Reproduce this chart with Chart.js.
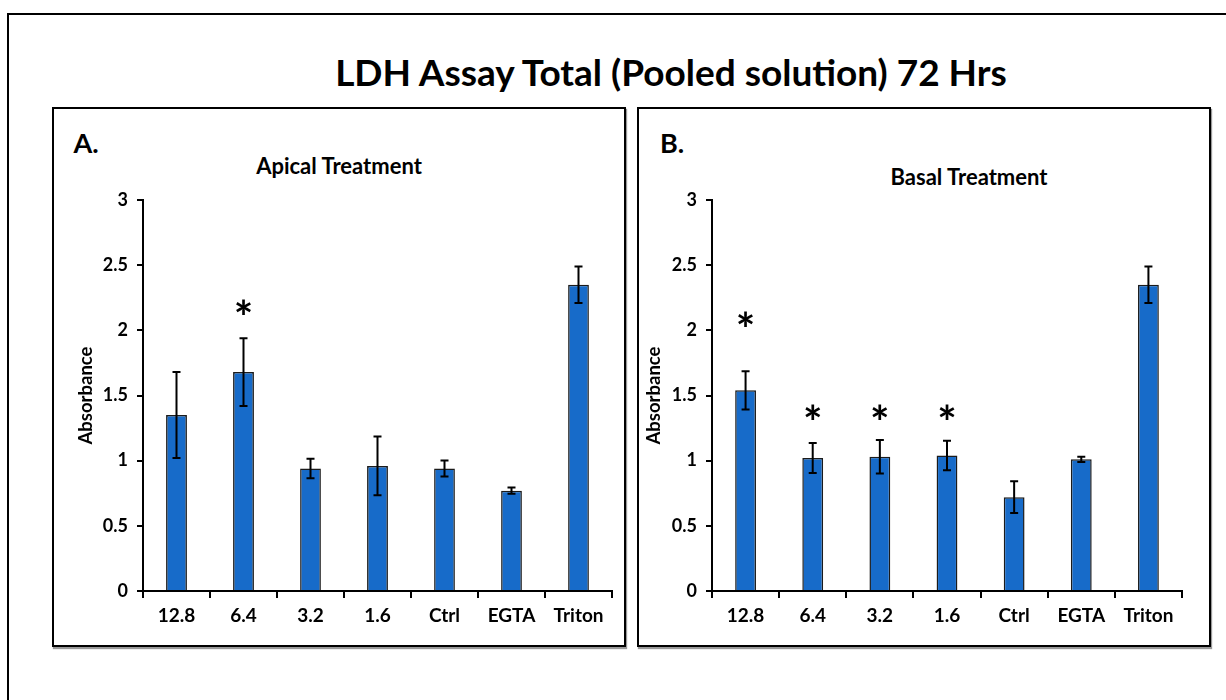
<!DOCTYPE html>
<html><head><meta charset="utf-8">
<script src="https://cdn.jsdelivr.net/npm/chart.js@4.4.1/dist/chart.umd.min.js"></script>
<style>
html,body{margin:0;padding:0;background:#fff;width:1226px;height:700px;overflow:hidden;font-family:Lato,'Open Sans',sans-serif;}
#frame{position:absolute;left:7px;top:13px;width:1300px;height:800px;border:2px solid #000;}
.panel{position:absolute;top:107px;width:570px;height:536px;border:2px solid #000;box-shadow:1px 2px 1px #999;}
#pA{left:52px}
#pB{left:637px}
canvas{position:absolute;}
.lbl{position:absolute;font-weight:bold;white-space:nowrap;color:#000;line-height:1;transform:translate(-50%,-50%);}
</style></head>
<body>
<div id="frame"></div>
<div class="panel" id="pA"></div>
<div class="panel" id="pB"></div>
<div class="lbl" style="left:671px;top:71px;font-size:37px">LDH Assay Total (Pooled solution) 72 Hrs</div>
<div class="lbl" style="left:86px;top:142px;font-size:27px">A.</div>
<div class="lbl" style="left:672px;top:142px;font-size:27px">B.</div>
<div class="lbl" style="left:339px;top:166px;font-size:22px">Apical Treatment</div>
<div class="lbl" style="left:969px;top:177px;font-size:22px">Basal Treatment</div>
<canvas id="cA" width="568" height="534" style="left:55px;top:110px;width:568px;height:534px"></canvas>
<canvas id="cB" width="568" height="534" style="left:640px;top:110px;width:568px;height:534px"></canvas>
<script>
const categories = ['12.8','6.4','3.2','1.6','Ctrl','EGTA','Triton'];
const yTickValues = [0,0.5,1,1.5,2,2.5,3];
const apicalMeans  = [1.35, 1.68, 0.94, 0.96, 0.94, 0.77, 2.35];
const apicalErrors = [0.33, 0.26, 0.075, 0.225, 0.062, 0.024, 0.14];
const apicalStars  = [null, 2.18, null, null, null, null, null];
const basalMeans   = [1.54, 1.02, 1.03, 1.04, 0.72, 1.01, 2.35];
const basalErrors  = [0.147, 0.115, 0.128, 0.113, 0.122, 0.02, 0.14];
const basalStars   = [2.09, 1.37, 1.37, 1.37, null, null, null];

const FONT = 'Lato, "Open Sans", sans-serif';

const errorBarPlugin = {
  id: 'errorBars',
  afterDatasetsDraw(chart, args, opts) {
    const ctx = chart.ctx, x = chart.scales.x, y = chart.scales.y;
    const data = chart.data.datasets[0].data;
    ctx.save();
    ctx.strokeStyle = '#000';
    ctx.lineWidth = 2;
    data.forEach((v, i) => {
      const px = x.getPixelForValue(i);
      const t = y.getPixelForValue(v + opts.errors[i]);
      const b = y.getPixelForValue(v - opts.errors[i]);
      ctx.beginPath();
      ctx.moveTo(px, t); ctx.lineTo(px, b);
      ctx.moveTo(px - 4, t); ctx.lineTo(px + 4, t);
      ctx.moveTo(px - 4, b); ctx.lineTo(px + 4, b);
      ctx.stroke();
    });
    ctx.fillStyle = '#000';
    ctx.font = 'bold 46px ' + FONT;
    ctx.textAlign = 'center';
    ctx.textBaseline = 'alphabetic';
    opts.stars.forEach((s, i) => {
      if (s === null) return;
      const m = ctx.measureText('*');
      const px = x.getPixelForValue(i);
      const py = y.getPixelForValue(s);
      const off = (m.actualBoundingBoxAscent - m.actualBoundingBoxDescent) / 2;
      ctx.fillText('*', px, py + off);
    });
    ctx.restore();
  }
};

function makeChart(id, means, errors, stars, leftW, rightPad, titlePad) {
  return new Chart(document.getElementById(id), {
    type: 'bar',
    data: {
      labels: categories,
      datasets: [{
        data: means,
        backgroundColor: '#176BC9',
        borderColor: '#1b1b1b',
        borderWidth: 1.5,
        borderSkipped: 'bottom',
        barPercentage: 1,
        categoryPercentage: 0.31
      }]
    },
    options: {
      responsive: false,
      animation: false,
      devicePixelRatio: 1,
      layout: { padding: { top: 90, right: rightPad, bottom: 0, left: 0 } },
      plugins: {
        legend: { display: false },
        tooltip: { enabled: false },
        errorBars: { errors: errors, stars: stars }
      },
      scales: {
        x: {
          offset: true,
          grid: { display: true, drawOnChartArea: false, drawTicks: true, tickLength: 7, color: '#000', lineWidth: 2, offset: true },
          border: { display: true, color: '#000', width: 2 },
          ticks: { color: '#000', font: { family: FONT, size: 19, weight: 'bold' }, padding: 6, maxRotation: 0 },
          afterFit(s) { s.height = 53; }
        },
        y: {
          min: 0, max: 3,
          afterBuildTicks(s) { s.ticks = yTickValues.map(v => ({ value: v })); },
          grid: { display: true, drawOnChartArea: false, drawTicks: true, tickLength: 6, color: '#000', lineWidth: 2 },
          border: { display: true, color: '#000', width: 2 },
          ticks: { color: '#000', font: { family: FONT, size: 18, weight: 'bold' }, padding: 9, callback: v => String(v) },
          title: { display: true, text: 'Absorbance', color: '#000', font: { family: FONT, size: 18.5, weight: 'bold' }, padding: { top: titlePad, bottom: 0 } },
          afterFit(s) { s.width = leftW; }
        }
      }
    },
    plugins: [errorBarPlugin]
  });
}

makeChart('cA', apicalMeans, apicalErrors, apicalStars, 88, 11, 20);
makeChart('cB', basalMeans, basalErrors, basalStars, 72, 26, 3);
</script>
</body></html>
